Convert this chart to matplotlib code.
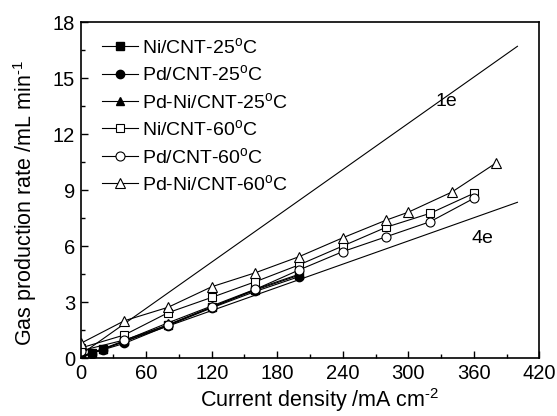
import matplotlib
matplotlib.use("Agg")
import matplotlib.pyplot as plt
from matplotlib.ticker import MultipleLocator

plt.rcParams['font.family'] = ['Liberation Sans', 'DejaVu Sans']
plt.rcParams['mathtext.fontset'] = 'custom'
plt.rcParams['mathtext.rm'] = 'Liberation Sans'
plt.rcParams['mathtext.it'] = 'Liberation Sans:italic'

# Data
x25 = [0, 10, 20, 40, 80, 120, 160, 200]
ni25 = [0.05, 0.27, 0.48, 0.90, 1.80, 2.75, 3.65, 4.45]
pd25 = [0.05, 0.25, 0.45, 0.80, 1.75, 2.70, 3.58, 4.37]
pdni25 = [0.10, 0.30, 0.50, 0.95, 1.90, 2.80, 3.70, 4.50]

x60 = [0, 40, 80, 120, 160, 200, 240, 280, 320, 360]
ni60 = [0.55, 1.25, 2.44, 3.26, 4.10, 5.00, 6.01, 7.02, 7.76, 8.83]
pd60 = [0.40, 0.98, 1.78, 2.73, 3.69, 4.73, 5.71, 6.51, 7.31, 8.56]
x_pdni60 = [0, 40, 80, 120, 160, 200, 240, 280, 300, 340, 380]
pdni60 = [0.80, 2.01, 2.73, 3.83, 4.58, 5.44, 6.45, 7.40, 7.82, 8.90, 10.44]

x_theory = [0, 400]
line_1e = [0.2, 16.7]
line_4e = [0.07, 8.35]

labels = ['Ni/CNT-25$^{\\rm o}$C', 'Pd/CNT-25$^{\\rm o}$C', 'Pd-Ni/CNT-25$^{\\rm o}$C',
          'Ni/CNT-60$^{\\rm o}$C', 'Pd/CNT-60$^{\\rm o}$C', 'Pd-Ni/CNT-60$^{\\rm o}$C']

fig = plt.figure(figsize=(5.57, 4.16), dpi=100)
ax = fig.add_axes([0.1449, 0.1387, 0.8233, 0.8084])

lw = 0.8
ms = 6
ax.plot(x_theory, line_1e, color='black', lw=lw)
ax.plot(x_theory, line_4e, color='black', lw=lw)

ax.plot(x25, ni25, '-s', color='black', mfc='black', lw=lw, ms=ms, label=labels[0])
ax.plot(x25, pd25, '-o', color='black', mfc='black', lw=lw, ms=ms, label=labels[1])
ax.plot(x25, pdni25, '-^', color='black', mfc='black', lw=lw, ms=ms, label=labels[2])
ax.plot(x60, ni60, '-s', color='black', mfc='white', mew=0.8, lw=lw, ms=ms, label=labels[3])
ax.plot(x60, pd60, '-o', color='black', mfc='white', mew=0.8, lw=lw, ms=ms+0.5, label=labels[4])
ax.plot(x_pdni60, pdni60, '-^', color='black', mfc='white', mew=0.8, lw=lw, ms=ms+1, label=labels[5])

ax.text(334.5, 13.77, '1e', fontsize=14, ha='center', va='center')
ax.text(367.5, 6.39, '4e', fontsize=14, ha='center', va='center')

ax.set_xlim(0, 420)
ax.set_ylim(0, 18)
ax.xaxis.set_major_locator(MultipleLocator(60))
ax.xaxis.set_minor_locator(MultipleLocator(30))
ax.yaxis.set_major_locator(MultipleLocator(3))
ax.yaxis.set_minor_locator(MultipleLocator(1.5))
ax.tick_params(which='both', direction='in', top=False, right=False, labelsize=14.5, width=1.0)
ax.tick_params(which='major', length=5, pad=4)
ax.tick_params(which='minor', length=3)
for s in ax.spines.values():
    s.set_linewidth(1.2)

ax.set_xlabel('Current density /mA cm$^{\\text{-2}}$', fontsize=15.5, labelpad=2.5)
ax.set_ylabel('Gas production rate /mL min$^{\\text{-1}}$', fontsize=15.5, labelpad=10)
ax.xaxis.label.set_x(0.522)
ax.yaxis.label.set_y(0.463)

ax.legend(loc='upper left', bbox_to_anchor=(0.02, 0.99), frameon=False, fontsize=14,
          handlelength=1.9, handletextpad=0.2, labelspacing=0.38, borderaxespad=0.2)

fig.savefig('out.png', dpi=100)
